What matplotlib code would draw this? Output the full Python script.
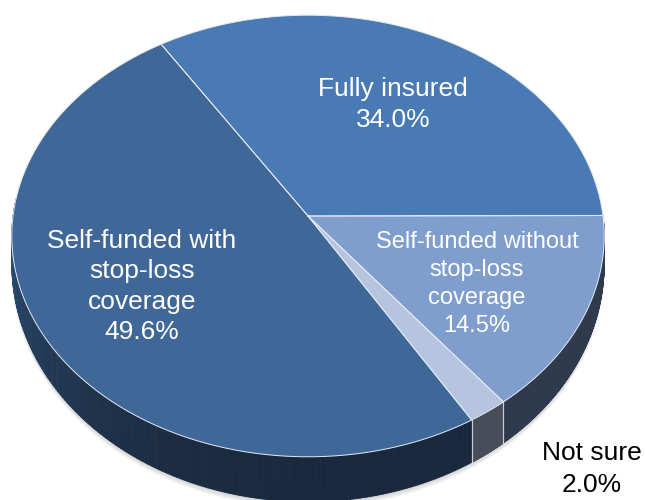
import numpy as np
import matplotlib
matplotlib.use("Agg")
import matplotlib.pyplot as plt
from matplotlib.collections import PolyCollection
from matplotlib.colors import to_rgb

plt.rcParams["font.family"] = ["Liberation Sans", "DejaVu Sans"]

# Slices listed clockwise, starting from the "Fully insured" leading edge
categories = ["Fully insured", "Self-funded without\nstop-loss\ncoverage", "Not sure",
              "Self-funded with\nstop-loss\ncoverage"]
shares = [34.0, 14.5, 2.0, 49.6]
top_colors = ["#4A7AB3", "#7F9ECD", "#B5C5E0", "#3F6797"]
side_colors = [("#3A6496", "#3A6496"), ("#2F3A4F", "#2F3A4F"), ("#474E5A", "#474E5A"),
               ("#335A86", "#19283C")]

# label placement: x, first baseline, line step, size, colour
label_pos = [(393, 96, 31, 19, "white"), (477, 248, 28, 17, "white"),
             (592, 460, 32, 19, "black"), (142, 248, 30.3, 19, "white")]

# perspective disc projection
cx, cy = 308.0, 216.0
ra, rb, persp = 295.0, 219.0, 0.0905
depth_side, depth_front = 26.0, 45.0
start_angle = 122.4


def project(theta_deg, lower=False):
	t = np.radians(theta_deg)
	u, v = np.cos(t), np.sin(t)
	w = 1.0 + persp * v
	x = cx + ra * u / w
	y = cy - rb * v / w
	if lower:
		# wall height grows towards the viewer
		y = y + depth_side + (depth_front - depth_side) * np.clip(-v, 0, 1)
	return x, y


fig = plt.figure(figsize=(6.45, 5.0), dpi=100)
ax = fig.add_axes([0, 0, 1, 1])
ax.set_xlim(0, 645)
ax.set_ylim(500, 0)
ax.axis("off")

total = sum(shares)
bounds = []
ang = start_angle
for s in shares:
	span = 360.0 * s / total
	bounds.append((ang - span, ang))
	ang -= span

# soft shadow under the front rim
front = np.linspace(180, 360, 200)
fx, fy = project(front, lower=True)
for off in np.linspace(1.5, 6, 5):
	ax.fill(np.r_[fx, fx[::-1]], np.r_[fy + off, fy[::-1] - 20],
	        color="#8a8a8a", alpha=0.08, lw=0, zorder=1)

# side walls, only the front half shows
for (a0, a1), (c0, c1) in zip(bounds, side_colors):
	lo = a0 % 360
	hi = lo + (a1 - a0)
	th = np.linspace(lo, hi, 300)
	th = th[((th >= 175) & (th <= 365)) | ((th - 360 >= 175) & (th - 360 <= 365))]
	if len(th) < 2:
		continue
	tx, ty = project(th)
	bx, by = project(th, lower=True)
	polys, cols = [], []
	c0, c1 = np.array(to_rgb(c0)), np.array(to_rgb(c1))
	for j in range(len(th) - 1):
		polys.append([(tx[j], ty[j]), (tx[j + 1], ty[j + 1]),
		              (bx[j + 1], by[j + 1]), (bx[j], by[j])])
		f = j / max(len(th) - 2, 1)
		f = 1 - (1 - f) ** 3
		cols.append(c0 + (c1 - c0) * f)
	ax.add_collection(PolyCollection(polys, facecolors=cols, edgecolors=cols,
	                                 linewidths=0.6, zorder=2))
	# seam between neighbouring walls
	for a in (th[0], th[-1]):
		sx0, sy0 = project(a)
		sx1, sy1 = project(a, lower=True)
		ax.plot([sx0, sx1], [sy0, sy1], color="#C8CED8", lw=0.8, zorder=3)

# top faces
for (a0, a1), col in zip(bounds, top_colors):
	th = np.linspace(a0, a1, 200)
	px, py = project(th)
	ax.fill(np.r_[cx, px], np.r_[cy, py], color=col, lw=0, zorder=4)
	ax.plot(np.r_[cx, px, cx], np.r_[cy, py, cy], color="#E4E9F1", lw=0.7, zorder=5)

# labels
for name, s, (lx, ly, step, size, tc) in zip(categories, shares, label_pos):
	lines = name.split("\n") + [f"{s:.1f}%"]
	for i, line in enumerate(lines):
		ax.text(lx, ly + i * step, line, ha="center", va="baseline",
		        fontsize=size, color=tc, zorder=6)

fig.savefig("out.png", dpi=100)
